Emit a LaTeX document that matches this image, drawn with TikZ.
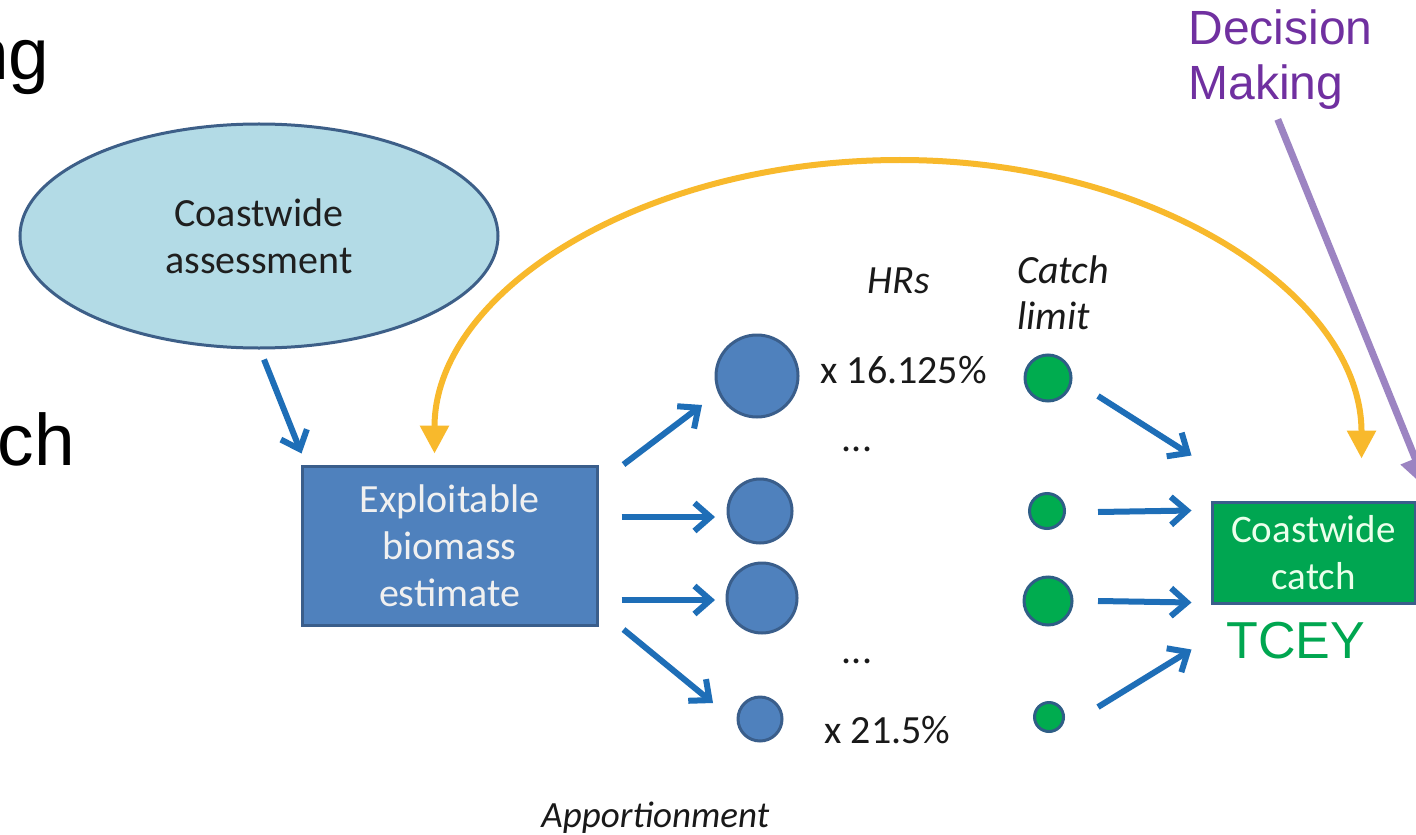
\documentclass[tikz,border=0pt]{standalone}
\usepackage{fontspec}
\setmainfont{Carlito}
\newfontfamily\arialf{Liberation Sans}
\usetikzlibrary{arrows.meta,shapes.geometric}
\definecolor{ellFill}{HTML}{B3DBE6}
\definecolor{ellEdge}{HTML}{3D5F88}
\definecolor{boxBlue}{HTML}{4F81BD}
\definecolor{boxEdge}{HTML}{3A5E8B}
\definecolor{arrBlue}{HTML}{1E6EB7}
\definecolor{gFill}{HTML}{00A651}
\definecolor{gCirc}{HTML}{00AC4F}
\definecolor{gEdge}{HTML}{2F5E86}
\definecolor{gText}{HTML}{00A650}
\definecolor{goldc}{HTML}{F8B92C}
\definecolor{lavc}{HTML}{9C84C2}
\definecolor{purpc}{HTML}{7030A0}
\tikzset{
  ellnode/.style={ellipse, draw=ellEdge, line width=1.5pt, fill=ellFill,
    minimum width=239pt, minimum height=112pt, inner sep=0pt, align=center,
    text=black!88, font=\fontsize{20}{23.5}\selectfont},
  boxnode/.style={rectangle, draw=boxEdge, line width=1.5pt, fill=boxBlue,
    minimum width=147.5pt, minimum height=79.5pt, inner sep=0pt, align=center,
    text=white!94!black, font=\fontsize{20}{23.5}\selectfont},
  gboxnode/.style={rectangle, draw=boxEdge, line width=1.5pt, fill=gFill,
    minimum width=101.5pt, minimum height=50.5pt, inner sep=0pt, align=center,
    text=white!92!green, font=\fontsize{19.5}{23.5}\selectfont},
  bcirc/.style={circle, draw=boxEdge, line width=1.5pt, fill=boxBlue, inner sep=0pt},
  gcirc/.style={circle, draw=gEdge, line width=1.5pt, fill=gCirc, inner sep=0pt},
  barrow/.style={draw=arrBlue, line width=3pt, -{Straight Barb[length=8pt,width=14pt]}},
  yarrow/.style={draw=goldc, line width=3pt,
    {Triangle[length=14pt,width=14pt]}-{Triangle[length=14pt,width=14pt]}},
  parrow/.style={draw=lavc, line width=3.5pt, -{Triangle[length=17pt,width=15pt]}},
  lbl/.style={inner sep=0pt, font=\fontsize{20}{24}\selectfont, text=black!90},
  ilbl/.style={inner sep=0pt, font=\fontsize{20}{23}\selectfont\itshape, text=black!90},
  bigtxt/.style={inner sep=0pt, font=\arialf\fontsize{36.5}{40}\selectfont},
  dectxt/.style={inner sep=0pt, font=\arialf\fontsize{24}{28}\selectfont, text=purpc},
}
\begin{document}
\begin{tikzpicture}[x=0.5pt,y=-0.5pt]
\fill[white] (0,0) rectangle (1416,834);
\useasboundingbox (0,0) rectangle (1416,834);
\begin{scope}
\clip (0,0) rectangle (1416,834);

% partial words on left
\node[bigtxt, anchor=base east] (ng) at (50,80) {ng};
\node[bigtxt, anchor=base east] (ch) at (75,465) {ch};

% main nodes
\node[ellnode] (ass) at (259,236) {Coastwide\\assessment};
\node[boxnode] (bio) at (449.5,545.5) {Exploitable\\biomass\\estimate};
\node[gboxnode] (cc) at (1313.5,552.5) {Coastwide\\catch};
\node[inner sep=0pt, font=\arialf\fontsize{26}{30}\selectfont, text=gText] (tcey) at (1296,641) {TCEY};

% decision making
\node[dectxt, anchor=base west] (dec) at (1188,45) {Decision};
\node[dectxt, anchor=base west] (mak) at (1188,100) {Making};

% blue circles
\node[bcirc, minimum size=41pt] (b1) at (757,376) {};
\node[bcirc, minimum size=32pt] (b2) at (760,511) {};
\node[bcirc, minimum size=35pt] (b3) at (762,598) {};
\node[bcirc, minimum size=22pt] (b4) at (760,719) {};

% green circles
\node[gcirc, minimum size=23pt] (g1) at (1048,378) {};
\node[gcirc, minimum size=17.5pt] (g2) at (1047,511) {};
\node[gcirc, minimum size=24pt] (g3) at (1048,601) {};
\node[gcirc, minimum size=14.5pt] (g4) at (1049,717) {};

% labels
\node[ilbl, anchor=base west] (hrs) at (867,293) {HRs};
\node[ilbl, anchor=base west] (catch) at (1017,283) {Catch};
\node[ilbl, anchor=base west] (limit) at (1017,329) {limit};
\node[lbl, anchor=base west] (p1) at (820,383) {x 16.125\%};
\node[lbl, anchor=base west] (p2) at (824,743) {x 21.5\%};
\node[lbl, anchor=base] (dots1) at (857,451) {...};
\node[lbl, anchor=base] (dots2) at (857,663) {...};
\node[ilbl, anchor=base west, font=\fontsize{18.5}{22}\selectfont\itshape] (app) at (541,827) {Apportionment};

% ellipse -> box
\draw[barrow] ([xshift=2.5pt,yshift=-5pt]ass.south) -- ([xshift=0.5pt,yshift=5.5pt]bio.north west);

% box -> blue circles
\draw[barrow] ([xshift=12.5pt]bio.north east) -- ([xshift=-27.5pt,yshift=-14.5pt]b1.center);
\draw[barrow] ([xshift=11.5pt,yshift=14.25pt]bio.east) -- ([xshift=-22.5pt,yshift=-3pt]b2.center);
\draw[barrow] ([xshift=11.5pt,yshift=-27.25pt]bio.east) -- ([xshift=-23.5pt,yshift=-1pt]b3.center);
\draw[barrow] ([xshift=12.5pt,yshift=-1.5pt]bio.south east) -- ([xshift=-23.5pt,yshift=8pt]b4.center);

% green circles -> coastwide catch
\draw[barrow] ([xshift=25pt,yshift=-9pt]g1.center) -- ([xshift=-9.5pt,yshift=22.5pt]cc.north west);
\draw[barrow] ([xshift=25.5pt,yshift=-0.5pt]g2.center) -- ([xshift=-9.5pt,yshift=-5pt]cc.north west);
\draw[barrow] ([xshift=25pt]g3.center) -- ([xshift=-9.5pt,yshift=1pt]cc.south west);
\draw[barrow] ([xshift=24.5pt,yshift=5pt]g4.center) -- ([xshift=-9.5pt,yshift=-22.5pt]cc.south west);

% yellow feedback arc
\coordinate (ytop) at (900,160);
\draw[yarrow] ([xshift=67pt,yshift=5.5pt]bio.north west)
  .. controls +(0,-163) and +(-256,0) .. (ytop)
  .. controls +(256,0) and +(0,-163) .. ([xshift=75.5pt,yshift=21pt]cc.north west);

% purple decision arrow
\coordinate (pend) at (1428,490);
\draw[parrow] ([xshift=6pt,yshift=-4.5pt]mak.south) -- (pend);
\end{scope}
\end{tikzpicture}
\end{document}
